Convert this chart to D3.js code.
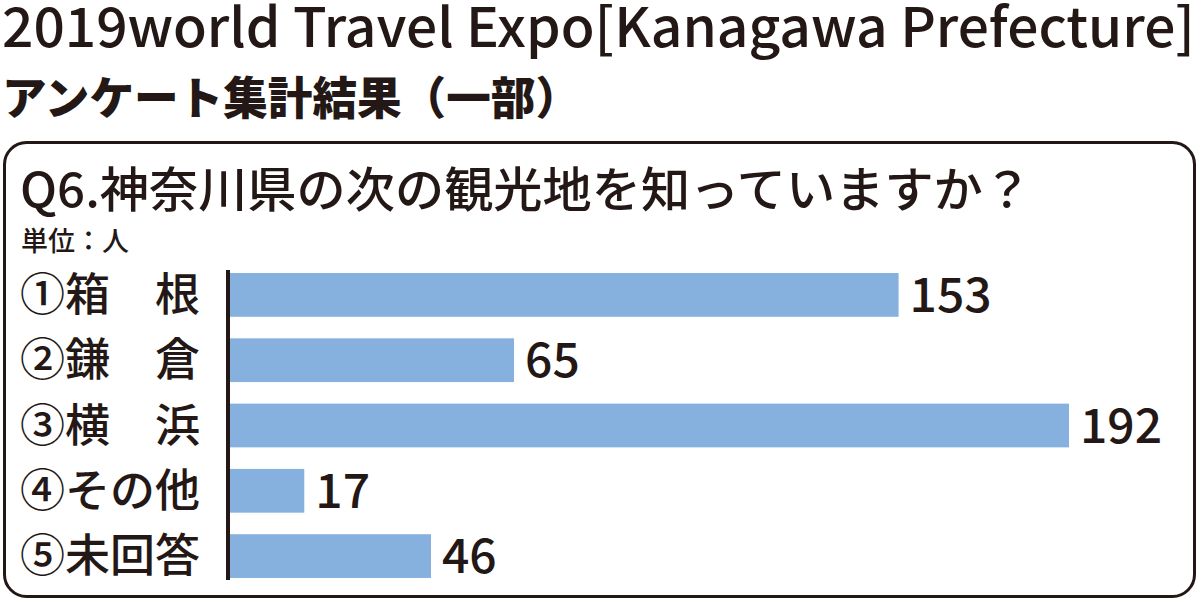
<!DOCTYPE html>
<html>
<head>
<meta charset="utf-8">
<script src="https://cdn.jsdelivr.net/npm/d3@7"></script>
<style>
  body { margin: 0; background: #fff; }
  svg { display: block; }
  text { font-family: "Noto Sans CJK JP", "Noto Sans", sans-serif; fill: #231815; }
</style>
</head>
<body>
<div id="chart"></div>
<script>
// データ
const categories = ['①箱　根', '②鎌　倉', '③横　浜', '④その他', '⑤未回答'];
const values = [153, 65, 192, 17, 46];
const titleLine1 = '2019world Travel Expo[Kanagawa Prefecture]';
const titleLine2 = 'アンケート集計結果（一部）';
const question = 'Q6.神奈川県の次の観光地を知っていますか？';
const unitLabel = '単位：人';

const width = 1200, height = 602;
const ink = '#231815';

const svg = d3.select('#chart')
  .append('svg')
  .attr('width', width)
  .attr('height', height);

// タイトル
svg.append('text')
  .attr('x', 2)
  .attr('y', 47)
  .attr('font-size', 54)
  .attr('font-weight', 500)
  .attr('textLength', 1193)
  .attr('lengthAdjust', 'spacingAndGlyphs')
  .text(titleLine1);

svg.append('text')
  .attr('x', 2)
  .attr('y', 115)
  .attr('font-size', 45)
  .attr('font-weight', 900)
  .attr('textLength', 578)
  .attr('lengthAdjust', 'spacingAndGlyphs')
  .text(titleLine2);

// 枠
svg.append('rect')
  .attr('x', 4.5)
  .attr('y', 142.5)
  .attr('width', 1190)
  .attr('height', 454)
  .attr('rx', 22)
  .attr('fill', 'none')
  .attr('stroke', ink)
  .attr('stroke-width', 3);

svg.append('text')
  .attr('x', 20)
  .attr('y', 207)
  .attr('font-size', 48)
  .attr('font-weight', 500)
  .attr('textLength', 1012)
  .attr('lengthAdjust', 'spacingAndGlyphs')
  .text(question);

svg.append('text')
  .attr('x', 21)
  .attr('y', 251)
  .attr('font-size', 27)
  .attr('font-weight', 500)
  .attr('textLength', 108)
  .attr('lengthAdjust', 'spacingAndGlyphs')
  .text(unitLabel);

// 棒グラフ
const x0 = 230;
const x = d3.scaleLinear()
  .domain([0, 192])
  .range([x0, 1069]);

const y = d3.scaleBand()
  .domain(categories)
  .range([273 - 10.75, 578 + 10.75])
  .paddingInner(0.33)
  .paddingOuter(0.165);

const rows = categories.map((c, i) => ({ name: c, value: values[i] }));

svg.selectAll('rect.bar')
  .data(rows)
  .enter()
  .append('rect')
  .attr('class', 'bar')
  .attr('x', x(0))
  .attr('y', d => y(d.name))
  .attr('width', d => x(d.value) - x(0))
  .attr('height', y.bandwidth())
  .attr('fill', '#86b1df');

svg.selectAll('text.cat')
  .data(rows)
  .enter()
  .append('text')
  .attr('class', 'cat')
  .attr('x', 20)
  .attr('y', d => y(d.name) + y.bandwidth() / 2 + 16)
  .attr('font-size', 45)
  .attr('font-weight', 500)
  .text(d => d.name);

svg.selectAll('text.val')
  .data(rows)
  .enter()
  .append('text')
  .attr('class', 'val')
  .attr('x', d => x(d.value) + 11)
  .attr('y', d => y(d.name) + y.bandwidth() / 2 + 17)
  .attr('font-size', 48)
  .attr('font-weight', 500)
  .text(d => d.value);

// 軸線
svg.append('line')
  .attr('x1', x0 - 2)
  .attr('x2', x0 - 2)
  .attr('y1', 270)
  .attr('y2', 580)
  .attr('stroke', ink)
  .attr('stroke-width', 4);
</script>
</body>
</html>
